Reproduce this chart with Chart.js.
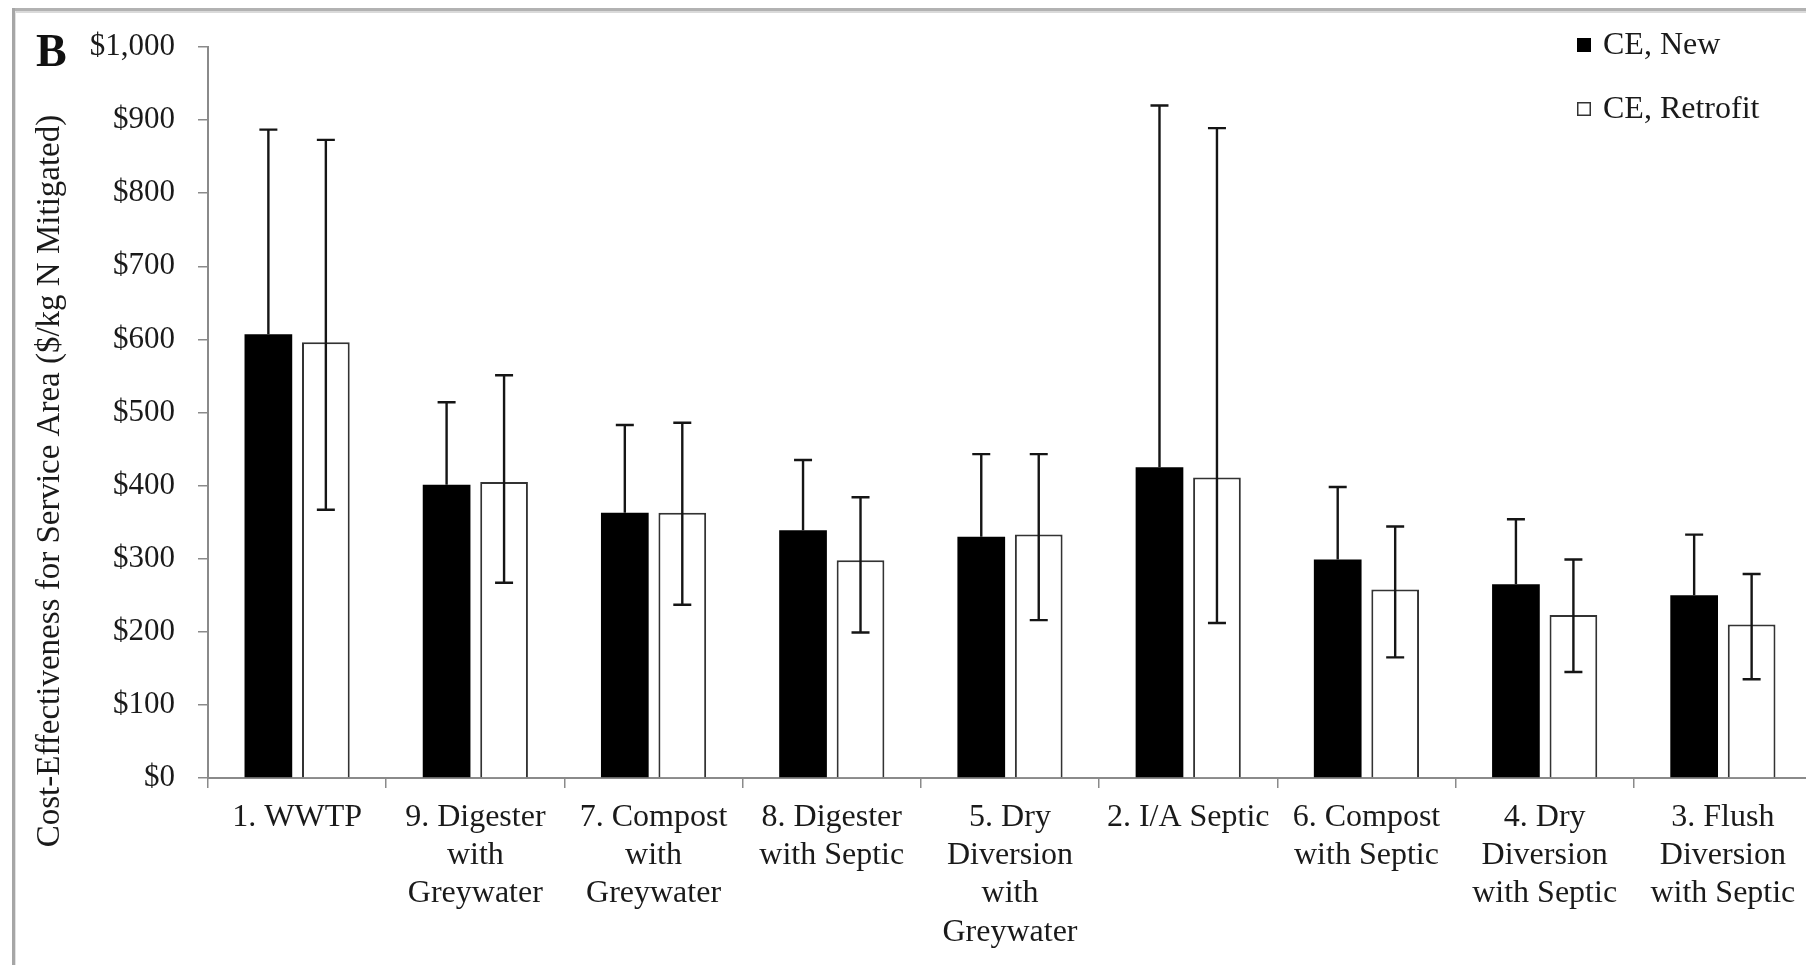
<!DOCTYPE html>
<html><head><meta charset="utf-8">
<script src="https://cdn.jsdelivr.net/npm/chart.js@4.4.1/dist/chart.umd.min.js"></script>
<style>
html,body{margin:0;padding:0;background:#fff;overflow:hidden;width:1806px;height:965px}
canvas{position:absolute;left:0;top:0}
</style></head><body>
<canvas id="c" width="1816" height="965"></canvas>
<script>
const categories = [
  ['1. WWTP'],
  ['9. Digester','with','Greywater'],
  ['7. Compost','with','Greywater'],
  ['8. Digester','with Septic'],
  ['5. Dry','Diversion','with','Greywater'],
  ['2. I/A Septic'],
  ['6. Compost','with Septic'],
  ['4. Dry','Diversion','with Septic'],
  ['3. Flush','Diversion','with Septic']
];
const seriesNames = ['CE, New', 'CE, Retrofit'];
const newValues    = [607, 401, 363, 339, 330, 425, 299, 265, 250];
const newErrHigh   = [887, 514, 483, 435, 443, 920, 398, 354, 333];
const retroValues  = [596, 405, 363, 298, 333, 411, 258, 223, 210];
const retroErrLow  = [367, 267, 237, 199, 216, 212, 165, 145, 135];
const retroErrHigh = [873, 551, 486, 384, 443, 889, 344, 299, 279];
const yTickLabels = ['$0','$100','$200','$300','$400','$500','$600','$700','$800','$900','$1,000'];
const panelLetter = 'B';
const yTitle = 'Cost-Effectiveness for Service Area ($/kg N Mitigated)';

const FONT = '"Liberation Serif","Times New Roman",serif';
const TXT = '#1a1a1a';
const AXIS = '#8a8a8a';

const framePlugin = {
  id: 'frame',
  beforeDraw(chart) {
    const ctx = chart.ctx;
    ctx.save();
    ctx.fillStyle = '#fff';
    ctx.fillRect(0, 0, chart.width, chart.height);
    ctx.fillStyle = '#b2b2b2';
    ctx.fillRect(12, 8, chart.width, 3);
    ctx.fillStyle = '#dadada';
    ctx.fillRect(15, 11, chart.width, 2);
    ctx.fillStyle = '#a6a6a6';
    ctx.fillRect(12, 8, 3, chart.height);
    ctx.fillStyle = '#e2e2e2';
    ctx.fillRect(15, 11, 1, chart.height);
    ctx.restore();
  }
};

const errPlugin = {
  id: 'errbars',
  afterDatasetsDraw(chart) {
    const ctx = chart.ctx;
    const ys = chart.scales.y;
    const specs = [
      { lo: newValues, hi: newErrHigh, lowCap: false },
      { lo: retroErrLow, hi: retroErrHigh, lowCap: true }
    ];
    ctx.save();
    ctx.strokeStyle = '#151515';
    ctx.lineWidth = 2.4;
    specs.forEach((s, di) => {
      chart.getDatasetMeta(di).data.forEach((bar, i) => {
        const x = bar.x;
        const yl = ys.getPixelForValue(s.lo[i]);
        const yh = ys.getPixelForValue(s.hi[i]);
        ctx.beginPath();
        ctx.moveTo(x, yl); ctx.lineTo(x, yh);
        ctx.moveTo(x - 9, yh); ctx.lineTo(x + 9, yh);
        if (s.lowCap) { ctx.moveTo(x - 9, yl); ctx.lineTo(x + 9, yl); }
        ctx.stroke();
      });
    });
    ctx.restore();
  }
};

const textPlugin = {
  id: 'texts',
  afterDraw(chart) {
    const ctx = chart.ctx;
    ctx.save();
    ctx.fillStyle = '#111';
    ctx.font = 'bold 46px ' + FONT;
    ctx.textAlign = 'left';
    ctx.textBaseline = 'alphabetic';
    ctx.fillText(panelLetter, 36, 66);
    ctx.fillStyle = TXT;
    ctx.font = '33px ' + FONT;
    ctx.translate(50, 481);
    ctx.rotate(-Math.PI / 2);
    ctx.textAlign = 'center';
    ctx.textBaseline = 'middle';
    ctx.fillText(yTitle, 0, 0);
    ctx.restore();
    ctx.save();
    const rows = [45, 109];
    chart.data.datasets.forEach((ds, i) => {
      const cy = rows[i];
      if (i === 0) {
        ctx.fillStyle = '#000';
        ctx.fillRect(1577, cy - 7, 14, 14);
      } else {
        ctx.fillStyle = '#fff';
        ctx.fillRect(1577, cy - 7, 14, 14);
        ctx.strokeStyle = '#333';
        ctx.lineWidth = 1.5;
        ctx.strokeRect(1577.75, cy - 6.25, 12.5, 12.5);
      }
      ctx.fillStyle = TXT;
      ctx.font = '32px ' + FONT;
      ctx.textAlign = 'left';
      ctx.textBaseline = 'middle';
      ctx.fillText(ds.label, 1603, cy + 1);
    });
    ctx.restore();
  }
};

new Chart(document.getElementById('c'), {
  type: 'bar',
  data: {
    labels: categories,
    datasets: [
      { label: seriesNames[0], data: newValues, backgroundColor: '#000', borderColor: '#000', borderWidth: 0,
        categoryPercentage: 0.645, barPercentage: 0.83 },
      { label: seriesNames[1], data: retroValues, backgroundColor: '#fff', borderColor: '#333', borderWidth: 2,
        categoryPercentage: 0.645, barPercentage: 0.83 }
    ]
  },
  options: {
    responsive: false,
    animation: false,
    devicePixelRatio: 1,
    layout: { padding: { top: 47, right: 4, left: 0, bottom: 0 } },
    plugins: { legend: { display: false }, tooltip: { enabled: false } },
    scales: {
      x: {
        grid: { display: true, drawOnChartArea: false, offset: true, tickLength: 10, color: AXIS, lineWidth: 1.5 },
        border: { display: true, color: AXIS, width: 2 },
        ticks: { font: { family: FONT, size: 32, lineHeight: 1.2 }, color: TXT, padding: 10,
                 maxRotation: 0, minRotation: 0, autoSkip: false },
        afterFit(s) { s.height = 187; }
      },
      y: {
        min: 0, max: 1000,
        grid: { display: true, drawOnChartArea: false, tickLength: 10, color: AXIS, lineWidth: 1.5 },
        border: { display: true, color: AXIS, width: 2 },
        ticks: { stepSize: 100, font: { family: FONT, size: 31 }, color: TXT, padding: 23,
                 callback: (v, i) => yTickLabels[i] },
        afterFit(s) { s.width = 208; }
      }
    }
  },
  plugins: [framePlugin, errPlugin, textPlugin]
});
</script>
</body></html>
